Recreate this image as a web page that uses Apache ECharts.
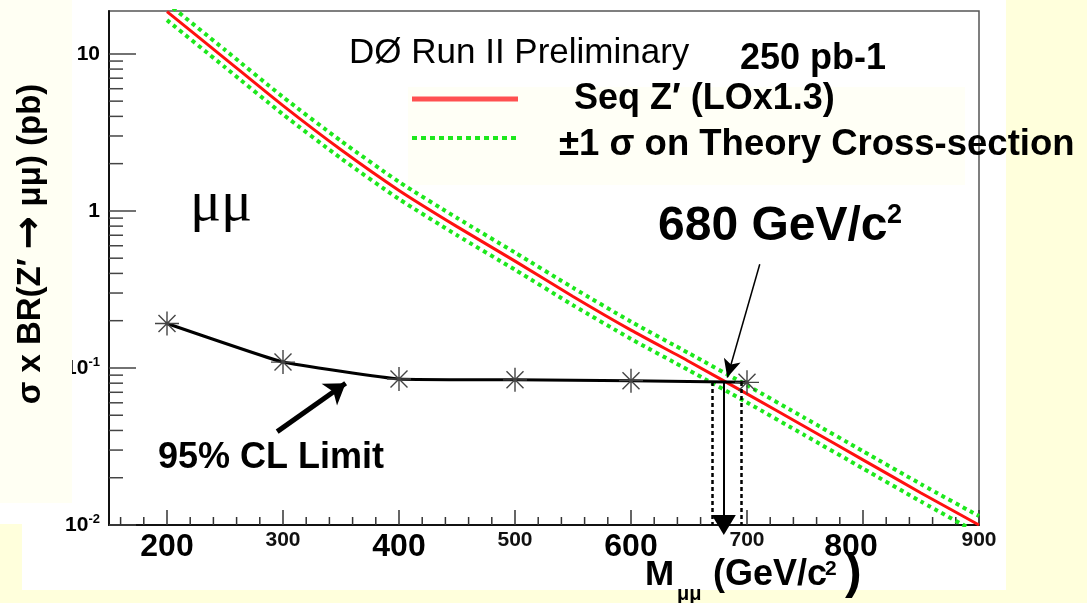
<!DOCTYPE html>
<html>
<head>
<meta charset="utf-8">
<script src="https://cdn.jsdelivr.net/npm/echarts@6/dist/echarts.min.js"></script>
<style>
  html, body { margin: 0; padding: 0; background: #ffffdc; }
  #chart { width: 1087px; height: 603px; }
</style>
</head>
<body>
<div id="chart"></div>
<script>
// Sequential Z' -> mumu: theory cross-section and 95% CL upper limit
const MASS = [200, 250, 300, 350, 400, 450, 500, 550, 600, 650, 700, 750, 800, 850, 900];
const THEORY = [18.6, 9.33, 4.68, 2.45, 1.35, 0.794, 0.479, 0.285, 0.174, 0.110, 0.0684, 0.0422, 0.0260, 0.0160, 0.0100];
const THEORY_UP = [21.1, 10.6, 5.31, 2.79, 1.53, 0.902, 0.543, 0.324, 0.197, 0.124, 0.0776, 0.0479, 0.0295, 0.0182, 0.0114];
const THEORY_DN = [16.4, 8.22, 4.12, 2.16, 1.19, 0.700, 0.422, 0.251, 0.153, 0.0966, 0.0603, 0.0372, 0.0229, 0.0141, 0.00881];

const LIMIT_MASS = [200, 300, 400, 500, 600, 700];
const LIMIT = [0.192, 0.109, 0.085, 0.084, 0.083, 0.081];

// crossing of limit and theory, with the +-1 sigma crossings
const MASS_LIMIT = 680;
const MASS_BAND = [670, 695];
const LIMIT_AT_CROSSING = 0.0815;

// annotation pointers [start, end] in (mass, cross-section)
const POINTER_MASS = [[711, 0.457], [683, 0.087]];
const POINTER_CL = [[295, 0.0393], [354, 0.0800]];

// axes
const X_MIN = 150, X_MAX = 900;
const Y_MIN = 0.01, Y_MAX = 18.75;
const X_LABELS = [200, 300, 400, 500, 600, 700, 800, 900];
const X_BIG_LABELS = [200, 400, 600, 800];
const X_MINOR = [160, 180, 220, 240, 260, 280, 320, 340, 360, 380, 420, 440, 460, 480,
                 520, 540, 560, 580, 620, 640, 660, 680, 720, 740, 760, 780, 820, 840, 860, 880];
const Y_MINOR = [0.02, 0.03, 0.04, 0.05, 0.06, 0.07, 0.08, 0.09,
                 0.2, 0.3, 0.4, 0.5, 0.6, 0.7, 0.8, 0.9,
                 2, 3, 4, 5, 6, 7, 8, 9];

const FONT = '"Liberation Sans", Arial, Helvetica, sans-serif';
const SERIF = '"Liberation Serif", "Times New Roman", serif';
const ARROW_FONT = '"DejaVu Sans", sans-serif';

const pairs = (xs, ys) => xs.map((x, i) => [x, ys[i]]);

const chart = echarts.init(document.getElementById('chart'), null, { renderer: 'canvas' });

const starSymbol = 'path://M12,0L12,24M0,12L24,12M3.5,3.5L20.5,20.5M3.5,20.5L20.5,3.5';

function yLabel(v) {
  const e = Math.round(Math.log10(v));
  if (Math.abs(Math.log10(v) - e) > 1e-6) return '';
  if (e === 1) return '{n|10}';
  if (e === 0) return '{n|1}';
  return '{n|10}{s|' + e + '}';
}

function xLabel(v) {
  if (X_BIG_LABELS.indexOf(v) >= 0) return v === 800 ? '{bigL|' + v + '}' : '{big|' + v + '}';
  return '{small|' + v + '}';
}

function text(x, y, str, font, extra) {
  return Object.assign({
    type: 'text', silent: true, z: 11, x: x, y: y,
    style: { text: str, font: font, fill: '#000', textAlign: 'left', textVerticalAlign: 'middle' }
  }, extra || {});
}

const option = {
  animation: false,
  backgroundColor: '#ffffdc',
  textStyle: { fontFamily: FONT },
  grid: {
    left: 109, right: 108, top: 11, bottom: 78,
    show: true, borderColor: '#555', borderWidth: 1.5, backgroundColor: 'transparent'
  },
  xAxis: {
    type: 'value', min: X_MIN, max: X_MAX,
    axisLine: { lineStyle: { color: '#111', width: 2 } },
    axisTick: { inside: true, length: 15, customValues: X_LABELS, lineStyle: { color: '#333', width: 1.5 } },
    axisLabel: {
      customValues: X_LABELS, margin: 8, formatter: xLabel,
      rich: {
        big: { fontFamily: FONT, fontSize: 32, fontWeight: 'bold', color: '#000', lineHeight: 29 },
        bigL: { fontFamily: FONT, fontSize: 32, fontWeight: 'bold', color: '#000', lineHeight: 29, padding: [0, 24, 0, 0] },
        small: { fontFamily: FONT, fontSize: 21, fontWeight: 'bold', color: '#111', lineHeight: 15 }
      }
    },
    splitLine: { show: false }
  },
  yAxis: {
    type: 'log', logBase: 10, min: Y_MIN, max: Y_MAX,
    axisLine: { lineStyle: { color: '#111', width: 2 } },
    axisTick: { inside: true, length: 27, lineStyle: { color: '#444', width: 1.5 } },
    axisLabel: {
      margin: 9, formatter: yLabel, showMaxLabel: false,
      rich: {
        n: { fontFamily: FONT, fontSize: 21, fontWeight: 'bold', color: '#000' },
        s: { fontFamily: FONT, fontSize: 13, fontWeight: 'bold', color: '#000', padding: [0, 0, 12, 0] }
      }
    },
    splitLine: { show: false }
  },
  series: [
    {
      name: 'minorX', type: 'custom', silent: true, z: 1,
      data: X_MINOR.map(v => [v, Y_MIN]),
      renderItem: (params, api) => {
        const p = api.coord([api.value(0), api.value(1)]);
        return { type: 'line', shape: { x1: p[0], y1: p[1], x2: p[0], y2: p[1] - 8 },
                 style: { stroke: '#333', lineWidth: 1.5 } };
      }
    },
    {
      name: 'minorY', type: 'custom', silent: true, z: 1,
      data: Y_MINOR.map(v => [X_MIN, v]),
      renderItem: (params, api) => {
        const p = api.coord([api.value(0), api.value(1)]);
        return { type: 'line', shape: { x1: p[0], y1: p[1], x2: p[0] + 14, y2: p[1] },
                 style: { stroke: '#444', lineWidth: 1.5 } };
      }
    },
    {
      name: 'theoryUp', type: 'line', data: pairs(MASS, THEORY_UP), smooth: 0.2,
      showSymbol: false, clip: true,
      lineStyle: { color: '#1de81d', width: 4, type: [4, 4] }
    },
    {
      name: 'theoryDown', type: 'line', data: pairs(MASS, THEORY_DN), smooth: 0.2,
      showSymbol: false, clip: true,
      lineStyle: { color: '#1de81d', width: 4, type: [4, 4] }
    },
    {
      name: 'theory', type: 'line', data: pairs(MASS, THEORY), smooth: 0.2,
      showSymbol: false, clip: true,
      lineStyle: { color: '#ff1010', width: 3 }
    },
    {
      name: 'limit', type: 'line', data: pairs(LIMIT_MASS, LIMIT), smooth: 0.1,
      symbol: starSymbol, symbolSize: 24, showSymbol: true,
      itemStyle: { color: 'rgba(0,0,0,0)', borderColor: '#444', borderWidth: 1.4 },
      lineStyle: { color: '#000', width: 3 },
      z: 4,
      markLine: {
        silent: true, symbol: ['none', 'none'], label: { show: false },
        data: [
          [{ coord: [MASS_BAND[0], LIMIT_AT_CROSSING] },
           { coord: [MASS_BAND[0], Y_MIN], lineStyle: { color: '#000', width: 2.5, type: [4, 3] } }],
          [{ coord: [MASS_BAND[1], LIMIT_AT_CROSSING] },
           { coord: [MASS_BAND[1], Y_MIN], lineStyle: { color: '#000', width: 2.5, type: [4, 3] } }],
          [{ coord: [MASS_LIMIT, LIMIT_AT_CROSSING], symbol: 'none' },
           { coord: [MASS_LIMIT, Y_MIN], symbol: 'triangle', symbolSize: [24, 20],
             lineStyle: { color: '#000', width: 2, type: 'solid' } }],
          [{ coord: POINTER_MASS[0], symbol: 'none' },
           { coord: POINTER_MASS[1], symbol: 'arrow', symbolSize: [13, 18],
             lineStyle: { color: '#000', width: 1.5, type: 'solid' } }],
          [{ coord: POINTER_CL[0], symbol: 'none' },
           { coord: POINTER_CL[1], symbol: 'arrow', symbolSize: [20, 20],
             lineStyle: { color: '#000', width: 5, type: 'solid' } }]
        ]
      }
    }
  ],
  graphic: [
    // page panels
    { type: 'rect', silent: true, z: -10, shape: { x: 22, y: 0, width: 984, height: 590 }, style: { fill: '#ffffff' } },
    { type: 'rect', silent: true, z: -10, shape: { x: 0, y: 0, width: 22, height: 524 }, style: { fill: '#ffffff' } },
    { type: 'rect', silent: true, z: -9, shape: { x: 408, y: 87, width: 557, height: 98 }, style: { fill: '#fffff6' } },
    { type: 'rect', silent: true, z: 10, shape: { x: 0, y: 0, width: 72, height: 503 }, style: { fill: '#fffff3' } },

    // y-axis title
    { type: 'text', silent: true, z: 11, x: 31, y: 244, rotation: Math.PI / 2,
      style: {
        text: '{a|σ x BR(Z′ }{b|→}{a| μμ) (pb)}',
        textAlign: 'center', textVerticalAlign: 'middle',
        rich: {
          a: { fontFamily: FONT, fontWeight: 'bold', fontSize: 33, fill: '#000' },
          b: { fontFamily: ARROW_FONT, fontWeight: 'bold', fontSize: 40, fill: '#000' }
        }
      } },

    // x-axis title
    text(645, 575.5, 'M', 'bold 35px ' + FONT),
    text(677, 594, 'μμ', 'bold 20px ' + FONT),
    text(713, 575.5, '(GeV/c', 'bold 36px ' + FONT),
    text(825, 569, '2', 'bold 21px ' + FONT),
    text(845, 574, ')', 'bold 50px ' + FONT),

    // legend
    text(349, 53.5, 'DØ Run II Preliminary', '35px ' + FONT),
    text(740, 59, '250 pb-1', 'bold 36px ' + FONT),
    { type: 'line', silent: true, z: 11, shape: { x1: 412, y1: 99, x2: 518, y2: 99 },
      style: { stroke: '#ff5050', lineWidth: 5 } },
    text(574, 99, 'Seq Z′ (LOx1.3)', 'bold 36px ' + FONT),
    { type: 'line', silent: true, z: 11, shape: { x1: 412, y1: 138, x2: 518, y2: 138 },
      style: { stroke: '#1de81d', lineWidth: 4, lineDash: [5, 4] } },
    text(559, 144.5, '±1 σ on Theory Cross-section', 'bold 36.5px ' + FONT),

    // annotations
    text(190, 205, 'μμ', '58px ' + SERIF),
    text(658, 226.5, '680 GeV/c', 'bold 48px ' + FONT),
    text(887, 216, '2', 'bold 27px ' + FONT),
    text(158, 458.5, '95% CL Limit', 'bold 36px ' + FONT)
  ]
};

chart.setOption(option);
</script>
</body>
</html>
